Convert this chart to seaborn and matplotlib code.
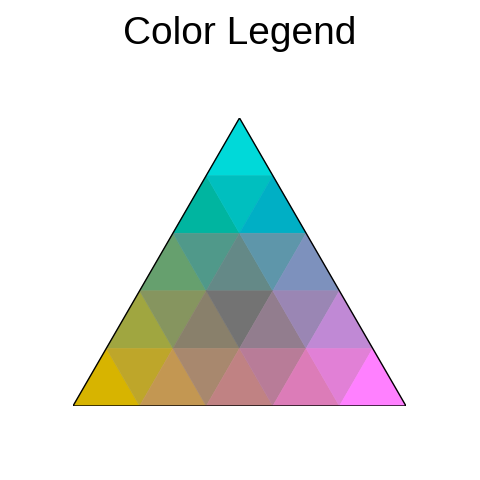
import numpy as np
import matplotlib
matplotlib.use("Agg")
import matplotlib.pyplot as plt
from matplotlib.patches import Polygon
import seaborn as sns

# colours of the 25 sub-triangles, one list per row (top to bottom),
# left to right, alternating up / down triangles
row0 = ['#00d9d9']
row1 = ['#00b5a0', '#00bfbf', '#00afc5']
row2 = ['#66a06e', '#50998a', '#648987', '#5e96aa', '#7d91bd']
row3 = ['#a0a640', '#86955f', '#89806b', '#737373', '#927d8e', '#9a86b4', '#c089d5']
row4 = ['#d7b400', '#bea62a', '#c39752', '#a8886e', '#c08283', '#b87c98', '#dc7cb8', '#e180d6', '#ff80ff']
rows = [row0, row1, row2, row3, row4]

title = 'Color Legend'

sns.set_style('white')
plt.rcParams['font.family'] = ['Liberation Sans', 'DejaVu Sans']

fig = plt.figure(figsize=(4.8, 4.8), dpi=100)
ax = fig.add_axes([73 / 480, 74 / 480, 333 / 480, 288 / 480])

n = len(rows)
H = np.sqrt(3) / 2
step = 1.0 / n

for r, colors in enumerate(rows):
    y_top = H * (1 - r / n)
    y_bot = H * (1 - (r + 1) / n)
    x0 = 0.5 - (r + 1) * step / 2
    for j, c in enumerate(colors):
        k = j // 2
        if j % 2 == 0:
            bl = x0 + k * step
            pts = [(bl, y_bot), (bl + step, y_bot), (bl + step / 2, y_top)]
        else:
            tl = x0 + step / 2 + k * step
            pts = [(tl, y_top), (tl + step, y_top), (tl + step / 2, y_bot)]
        ax.add_patch(Polygon(pts, closed=True, facecolor=c, edgecolor=c, linewidth=0.4))

# outline of the whole triangle
ax.add_patch(Polygon([(0, 0), (1, 0), (0.5, H)], closed=True, fill=False,
                     edgecolor='black', linewidth=1.0))

ax.set_xlim(0, 1)
ax.set_ylim(0, H)
ax.axis('off')

fig.text(239.5 / 480, 1 - 44 / 480, title, ha='center', va='baseline',
         fontsize=28, color='black')

fig.savefig('out.png', dpi=100)
